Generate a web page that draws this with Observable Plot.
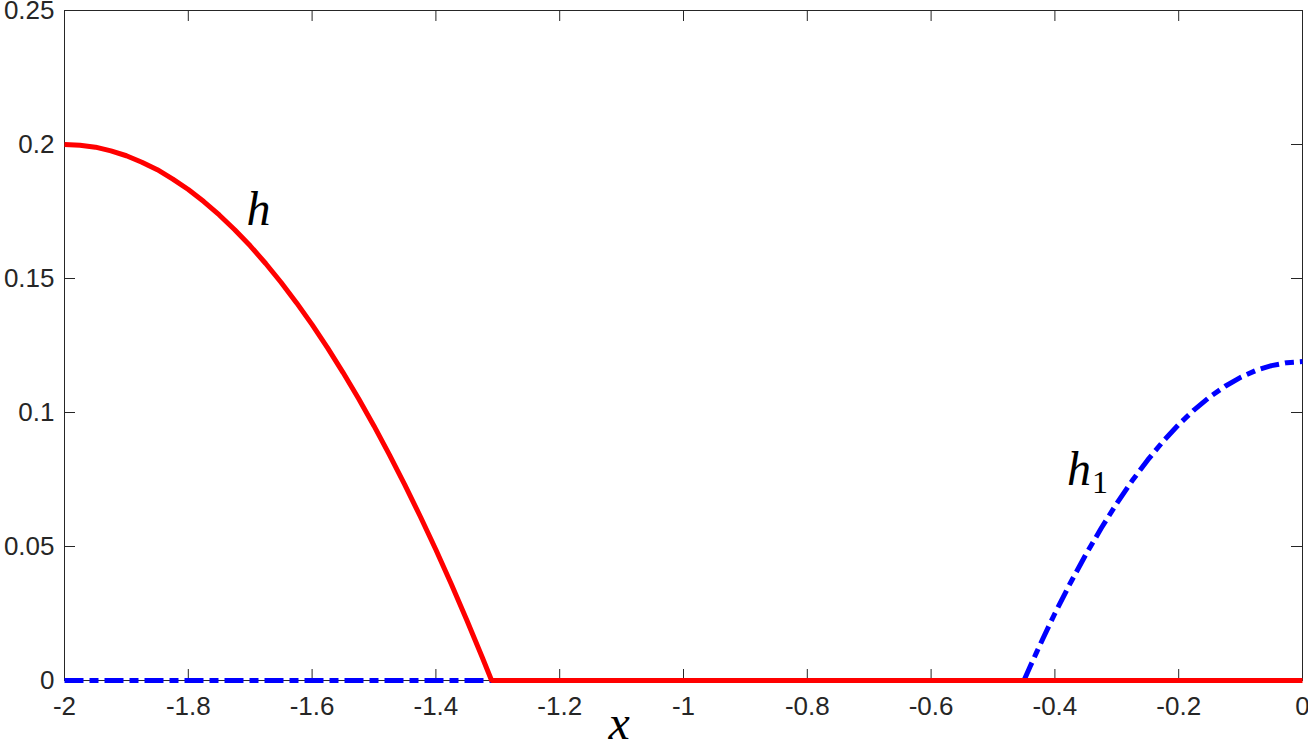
<!DOCTYPE html>
<html><head><meta charset="utf-8">
<script src="https://cdn.jsdelivr.net/npm/d3@7"></script>
<script src="https://cdn.jsdelivr.net/npm/@observablehq/plot@0.6"></script>
<style>
body{margin:0;background:#fff}
#chart{position:relative;width:1308px;height:744px;overflow:hidden}
</style>
</head><body><div id="chart"></div>
<script>
// Series h (red, solid)
const hX = [-2, -1.975, -1.95, -1.925, -1.9, -1.875, -1.85, -1.825, -1.8, -1.775, -1.75, -1.725, -1.7, -1.675, -1.65, -1.625, -1.6, -1.575, -1.55, -1.525, -1.5, -1.475, -1.45, -1.425, -1.4, -1.375, -1.35, -1.325, -1.31, -1.0, -0.5, 0];
const hY = [0.2, 0.1997, 0.1990, 0.1976, 0.1958, 0.1934, 0.1906, 0.1871, 0.1832, 0.1787, 0.1737, 0.1682, 0.1622, 0.1556, 0.1485, 0.1409, 0.1328, 0.1241, 0.1149, 0.1052, 0.0950, 0.0842, 0.0729, 0.0611, 0.0488, 0.0359, 0.0225, 0.0086, 0, 0, 0, 0];
// Series h1 (blue, dash-dot)
const h1X = [-2, -1.5, -1.0, -0.45, -0.44, -0.43, -0.42, -0.41, -0.4, -0.375, -0.35, -0.325, -0.3, -0.275, -0.25, -0.225, -0.2, -0.175, -0.15, -0.125, -0.1, -0.075, -0.05, -0.025, 0];
const h1Y = [0, 0, 0, 0, 0.0052, 0.0103, 0.0153, 0.0202, 0.0250, 0.0364, 0.0470, 0.0569, 0.0661, 0.0746, 0.0823, 0.0893, 0.0955, 0.1010, 0.1058, 0.1098, 0.1131, 0.1157, 0.1175, 0.1186, 0.1190];

const xTicks = [-2, -1.8, -1.6, -1.4, -1.2, -1, -0.8, -0.6, -0.4, -0.2, 0];
const xTickLabels = ["-2", "-1.8", "-1.6", "-1.4", "-1.2", "-1", "-0.8", "-0.6", "-0.4", "-0.2", "0"];
const yTicks = [0, 0.05, 0.1, 0.15, 0.2, 0.25];
const yTickLabels = ["0", "0.05", "0.1", "0.15", "0.2", "0.25"];

// Annotations (data coordinates)
const curveLabelText = ["h", "h"];
const curveLabelX = [-1.6866, -0.361];
const curveLabelY = [0.1698, 0.0728];
const subLabelText = ["1"];
const subLabelX = [-0.3271];
const subLabelY = [0.0698];
const axisLabelText = ["x"];
const axisLabelX = [-1.104];
const axisLabelY = [0];

const hData = hX.map((x, i) => ({x, y: hY[i]}));
const h1Data = h1X.map((x, i) => ({x, y: h1Y[i]}));
const labels = curveLabelText.map((t, i) => ({t, x: curveLabelX[i], y: curveLabelY[i]}));
const subs = subLabelText.map((t, i) => ({t, x: subLabelX[i], y: subLabelY[i]}));
const axLab = axisLabelText.map((t, i) => ({t, x: axisLabelX[i], y: axisLabelY[i]}));

const W = 1308, H = 744, mL = 64, mR = 6, mT = 10, mB = 64;
const pw = W - mL - mR, ph = H - mT - mB, tick = 11;
const ink = "#262626";

const chart = Plot.plot({
  width: W, height: H,
  marginLeft: mL, marginRight: mR, marginTop: mT, marginBottom: mB,
  style: {fontFamily: "'Liberation Sans', Arial, sans-serif", background: "white", overflow: "visible"},
  x: {domain: [-2, 0]},
  y: {domain: [0, 0.25]},
  marks: [
    Plot.frame({stroke: ink, strokeWidth: 1}),
    Plot.tickX(xTicks, {x: d => d, insetTop: ph - tick, stroke: ink, strokeWidth: 1}),
    Plot.tickX(xTicks, {x: d => d, insetBottom: ph - tick, stroke: ink, strokeWidth: 1}),
    Plot.tickY(yTicks, {y: d => d, insetRight: pw - tick, stroke: ink, strokeWidth: 1}),
    Plot.tickY(yTicks, {y: d => d, insetLeft: pw - tick, stroke: ink, strokeWidth: 1}),
    Plot.axisX({ticks: xTicks, tickFormat: (d, i) => xTickLabels[i], tickSize: 0, tickPadding: 16, fontSize: 26, fill: ink, label: null}),
    Plot.axisY({ticks: yTicks, tickFormat: (d, i) => yTickLabels[i], tickSize: 0, tickPadding: 10, fontSize: 26, fill: ink, label: null}),
    Plot.line(h1Data, {x: "x", y: "y", stroke: "#0000ff", strokeWidth: 5, strokeDasharray: "19,6,9,6", strokeLinecap: "butt", strokeLinejoin: "round"}),
    Plot.line(hData, {x: "x", y: "y", stroke: "#ff0000", strokeWidth: 5, strokeLinecap: "butt", strokeLinejoin: "miter"}),
    Plot.text(labels, {x: "x", y: "y", text: "t", fontFamily: "'Liberation Serif', 'Times New Roman', serif", fontStyle: "italic", fontSize: 48, fill: "black", textAnchor: "middle", lineAnchor: "bottom"}),
    Plot.text(subs, {x: "x", y: "y", text: "t", fontFamily: "'Liberation Serif', 'Times New Roman', serif", fontSize: 32, fill: "black", textAnchor: "middle", lineAnchor: "bottom"}),
    Plot.text(axLab, {x: "x", y: "y", text: "t", dy: 58, fontFamily: "'Liberation Serif', 'Times New Roman', serif", fontStyle: "italic", fontSize: 48, fill: "black", textAnchor: "middle", lineAnchor: "bottom"})
  ]
});
document.getElementById("chart").appendChild(chart);
</script>
</body></html>
